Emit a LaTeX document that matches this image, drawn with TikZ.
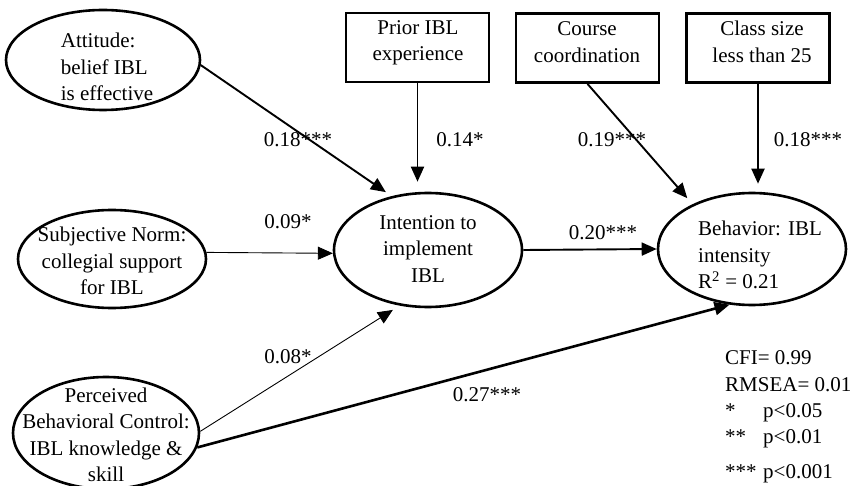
\documentclass[tikz,border=0pt]{standalone}
\usepackage{fontspec}
\setmainfont{Liberation Serif}
\usetikzlibrary{shapes.geometric,arrows.meta}
\begin{document}
\begin{tikzpicture}[x=1pt,y=-1pt,
  every node/.style={font=\fontsize{21}{26.5}\selectfont, inner sep=0pt},
  ell/.style={draw, line width=2.6pt, ellipse, inner sep=0pt},
  boxn/.style={draw, line width=2.8pt, minimum width=143pt, minimum height=69pt},
  arr/.style={-{Triangle[length=15pt,width=13pt]}, line width=1.9pt},
  thinarr/.style={-{Triangle[length=15pt,width=13pt]}, line width=0.9pt}]
\useasboundingbox (0,0) rectangle (859,486);

% ellipses
\node[ell, minimum width=194pt, minimum height=100pt] (att) at (103,60) {};
\node[align=left] (attt) at (107,67) {Attitude:\\belief IBL\\is effective};

\node[ell, minimum width=188pt, minimum height=98pt] (sub) at (112,259) {};
\node[align=center] (subt) at (112,261) {Subjective Norm:\\collegial support\\for IBL};

\node[ell, minimum width=188pt, minimum height=114pt] (int) at (428,250) {};
\node[align=center] (intt) at (428,249) {Intention to\\implement\\IBL};

\node[ell, minimum width=188pt, minimum height=112pt] (beh) at (752,249) {};
\node[align=left, anchor=west] (beht) at (698,255) {Behavior: IBL\\intensity\\R\textsuperscript{2} = 0.21};

\node[ell, minimum width=186pt, minimum height=112pt] (pbc) at (106,433) {};
\node[align=center] (pbct) at (106,435) {Perceived\\Behavioral Control:\\IBL knowledge \&\\skill};

% boxes
\node[boxn] (prior) at (417.5,47.5) {};
\node[align=center] (priort) at (418,43) {Prior IBL\\experience};
\node[boxn] (course) at (587.5,48) {};
\node[align=center] (courset) at (587,42) {Course\\coordination};
\node[boxn] (class) at (758,48) {};
\node[align=center] (classt) at (762,42) {Class size\\less than 25};

% connectors
\draw[arr, shorten >=7pt] (att.-3) -- (int.124);
\draw[arr, shorten >=10pt] (prior.south) -- (prior.south |- int.north);
\draw[thinarr] (sub.4) -- (int.182);
\draw[thinarr, shorten >=8pt] (pbc.1) -- (int.-117);
\draw[arr, line width=2.6pt] (pbc.-9) -- (beh.-112);
\draw[arr] (int.east) -- (beh.west);
\draw[arr, shorten >=8pt] (course.south) -- (beh.143);
\draw[arr, shorten >=8pt] (class.south) -- (class.south |- beh.north);

% path labels
\node (l1) at (298,140) {0.18***};
\node (l2) at (460,140) {0.14*};
\node (l3) at (612,140) {0.19***};
\node (l4) at (808,140) {0.18***};
\node (l5) at (288,222) {0.09*};
\node (l6) at (603,233) {0.20***};
\node (l7) at (288,357) {0.08*};
\node (l8) at (487,395) {0.27***};

% legend
\node[anchor=base west] (g1) at (725,364) {CFI= 0.99};
\node[anchor=base west] (g2) at (725,391) {RMSEA= 0.01};
\node[anchor=base west] (g3) at (725,417) {\makebox[38pt][l]{*}p<0.05};
\node[anchor=base west] (g4) at (725,443) {\makebox[38pt][l]{**}p<0.01};
\node[anchor=base west] (g5) at (725,478) {\makebox[38pt][l]{***}p<0.001};
\end{tikzpicture}
\end{document}
